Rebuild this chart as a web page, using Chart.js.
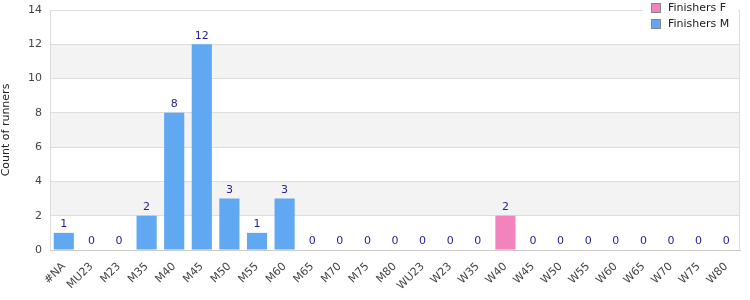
<!DOCTYPE html>
<html><head><meta charset="utf-8">
<script src="https://cdn.jsdelivr.net/npm/chart.js@4"></script>
<style>html,body{margin:0;padding:0;background:#fff}#wrap{width:750px;height:300px}</style>
</head><body><div id="wrap"><canvas id="c" width="750" height="300"></canvas></div>
<script>
const categories = ["#NA","MU23","M23","M35","M40","M45","M50","M55","M60","M65","M70","M75","M80","WU23","W23","W35","W40","W45","W50","W55","W60","W65","W70","W75","W80"];
const finishersM = [1,0,0,2,8,12,3,1,3,0,0,0,0,0,0,0,null,0,0,0,0,0,0,0,0];
const finishersF = [null,null,null,null,null,null,null,null,null,null,null,null,null,null,null,null,2,null,null,null,null,null,null,null,null];
const yTicks = [0,2,4,6,8,10,12,14];
const FONT = "'DejaVu Sans', Verdana, sans-serif";

const bgPlugin = {
  id: 'bg',
  beforeDraw(chart) {
    const {ctx, chartArea: a, scales: {y}} = chart;
    ctx.save();
    ctx.fillStyle = '#f3f3f3';
    for (let v = 2; v < 14; v += 4) {
      const y1 = y.getPixelForValue(v + 2), y2 = y.getPixelForValue(v);
      ctx.fillRect(a.left, y1, a.right - a.left, y2 - y1);
    }
    ctx.restore();
  },
  afterDatasetsDraw(chart) {
    const {ctx, chartArea: a} = chart;
    ctx.save();
    ctx.font = '11px ' + FONT;
    ctx.fillStyle = '#1f1f99';
    ctx.textAlign = 'center';
    ctx.textBaseline = 'bottom';
    chart.data.datasets.forEach((ds, di) => {
      const meta = chart.getDatasetMeta(di);
      meta.data.forEach((el, i) => {
        const v = ds.data[i];
        if (v === null || v === undefined) return;
        ctx.fillText(String(v), el.x, el.y - 3);
      });
    });
    // frame
    ctx.strokeStyle = '#dddddd';
    ctx.lineWidth = 1;
    ctx.beginPath();
    ctx.moveTo(a.left + 0.5, a.bottom);
    ctx.lineTo(a.left + 0.5, a.top + 0.5);
    ctx.lineTo(a.right - 0.5, a.top + 0.5);
    ctx.lineTo(a.right - 0.5, a.bottom);
    ctx.stroke();
    // legend
    ctx.fillStyle = '#ffffff';
    ctx.fillRect(643, 0, 95, 32);
    const items = [[chart.data.datasets[0].label, chart.data.datasets[0].backgroundColor, 3],
                   [chart.data.datasets[1].label, chart.data.datasets[1].backgroundColor, 19]];
    ctx.textAlign = 'left';
    ctx.textBaseline = 'middle';
    items.forEach(([lab, col, yy]) => {
      ctx.fillStyle = col;
      ctx.fillRect(652, yy + 1, 8, 8);
      ctx.strokeStyle = '#888';
      ctx.strokeRect(651.5, yy + 0.5, 9, 9);
      ctx.fillStyle = '#222';
      ctx.fillText(lab, 668, yy + 5);
    });
    ctx.restore();
  }
};

new Chart(document.getElementById('c'), {
  type: 'bar',
  data: {
    labels: categories,
    datasets: [
      {label: 'Finishers F', data: finishersF, backgroundColor: '#f283bd', borderWidth: 0, barPercentage: 0.73, categoryPercentage: 1},
      {label: 'Finishers M', data: finishersM, backgroundColor: '#61a8f3', borderWidth: 0, barPercentage: 0.73, categoryPercentage: 1}
    ]
  },
  options: {
    responsive: false,
    animation: false,
    layout: {padding: {top: 10, right: 10, left: 0, bottom: 0}},
    plugins: {legend: {display: false}, tooltip: {enabled: false}},
    scales: {
      x: {
        stacked: true,
        grid: {display: false},
        border: {color: '#cccccc'},
        ticks: {font: {family: FONT, size: 11}, color: '#444', maxRotation: 45, minRotation: 45, autoSkip: false, padding: 2},
        afterFit(s) { s.height = 50; s.paddingLeft = 0; s.paddingRight = 0; }
      },
      y: {
        stacked: true,
        min: 0, max: 14,
        afterBuildTicks(s) { s.ticks = yTicks.map(v => ({value: v})); },
        grid: {color: '#dddddd', drawTicks: false},
        border: {display: false},
        ticks: {font: {family: FONT, size: 11}, color: '#444', padding: 8},
        title: {display: true, text: 'Count of runners', font: {family: FONT, size: 11}, color: '#222', padding: {top: 0, bottom: 6}},
        afterFit(s) { s.width = 50; s.paddingTop = 0; s.paddingBottom = 0; }
      }
    }
  },
  plugins: [bgPlugin]
});
</script>
</body></html>
